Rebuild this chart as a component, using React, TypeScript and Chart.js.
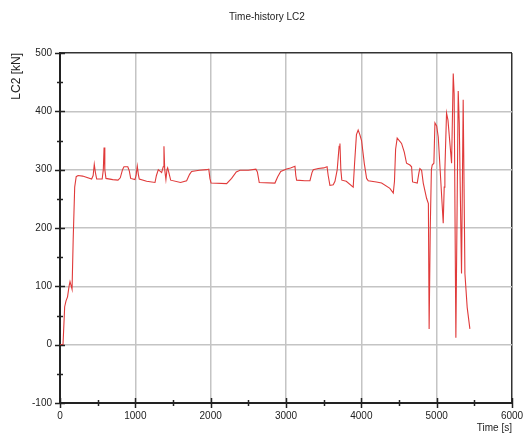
import React, { useEffect, useRef } from "react";
import { Chart, registerables } from "chart.js";

Chart.register(...registerables);

const chartTitle = "Time-history LC2";
const xTitle = "Time [s]";
const yTitle = "LC2 [kN]";

const times = [
  0, 40, 45, 62, 80, 100, 120, 133, 150, 160, 175, 195, 215, 240, 300, 420, 440, 455, 470, 487,
  560, 575, 585, 595, 610, 700, 770, 800, 830, 849, 900, 920, 938, 995, 1010, 1026, 1040, 1052,
  1150, 1261, 1280, 1305, 1349, 1370, 1380, 1390, 1406, 1420, 1429, 1445, 1469, 1600, 1681, 1720,
  1747, 1850, 1946, 1975, 1990, 2005, 2212, 2278, 2340, 2389, 2500, 2600, 2620, 2645, 2853, 2890,
  2930, 3008, 3060, 3119, 3130, 3141, 3250, 3318, 3345, 3362, 3428, 3500, 3545, 3560, 3583, 3627,
  3650, 3680, 3705, 3716, 3728, 3741, 3800, 3892, 3910, 3935, 3958, 3980, 4003, 4040, 4070, 4092,
  4200, 4269, 4379, 4424, 4440, 4455, 4476, 4534, 4570, 4600, 4645, 4667, 4680, 4742, 4765, 4777,
  4800, 4822, 4866, 4890, 4900, 4915, 4930, 4941, 4963, 4977, 5000, 5021, 5087, 5100, 5109, 5131,
  5150, 5198, 5220, 5232, 5255, 5286, 5300, 5330, 5352, 5375, 5405, 5441,
];

const loads = [
  0, 0, 0, 65, 75, 82, 100, 108, 100, 95, 180, 270, 288, 290, 289, 284, 290, 309, 295, 284,
  284, 300, 338, 300, 285, 283, 282, 286, 300, 305, 305, 298, 285, 283, 290, 306, 292, 284,
  280, 278, 290, 300, 295, 305, 340, 300, 283, 300, 303, 295, 282, 278, 281, 292,
  297, 299, 300, 301, 285, 277, 276, 285, 296, 299, 299, 301, 296, 278, 277, 288,
  297, 301, 303, 306, 290, 282, 281, 281, 295, 300, 302, 303, 305, 290, 273, 274,
  280, 300, 340, 345, 300, 282, 280, 270, 310, 360, 368, 360, 350, 310, 285, 281,
  279, 277, 268, 260, 280, 335, 354, 345, 330, 311, 308, 305, 279, 277, 295, 302,
  299, 277, 251, 242, 27, 200, 300, 308, 311, 380, 375, 356, 208, 270, 299, 397,
  385, 311, 465, 430, 12, 435, 380, 122, 420, 122, 64, 27,
];

const xMin = 0;
const xMax = 6000;
const xMajor = 1000;
const xMinor = 500;
const yMin = -100;
const yMax = 500;
const yMajor = 100;
const yMinor = 50;

const FONT = "Arial, 'Liberation Sans', sans-serif";

const crossTicks = {
  id: "crossTicks",
  afterDraw(chart: any) {
    const ctx = chart.ctx;
    const xs = chart.scales.x;
    const ys = chart.scales.y;
    ctx.save();
    ctx.strokeStyle = "#222";
    ctx.lineWidth = 1.5;
    for (const t of xs.ticks) {
      const p = Math.round(xs.getPixelForValue(t.value)) + 0.5;
      const major = t.value % xMajor === 0;
      const h = major ? 5 : 3;
      ctx.beginPath();
      ctx.moveTo(p, xs.top - h);
      ctx.lineTo(p, xs.top + h);
      ctx.stroke();
    }
    for (const t of ys.ticks) {
      const p = Math.round(ys.getPixelForValue(t.value)) + 0.5;
      const major = t.value % yMajor === 0;
      const h = major ? 5 : 3;
      ctx.beginPath();
      ctx.moveTo(ys.right - h, p);
      ctx.lineTo(ys.right + h, p);
      ctx.stroke();
    }
    ctx.restore();
  },
};

export default function App() {
  const ref = useRef<HTMLCanvasElement | null>(null);
  useEffect(() => {
    if (!ref.current) return;
    const points = times.map((t, i) => ({ x: t, y: loads[i] }));
    const chart = new Chart(ref.current, {
      type: "line",
      data: {
        datasets: [
          {
            data: points,
            borderColor: "#e03a3a",
            borderWidth: 1.1,
            pointRadius: 0,
            tension: 0,
            fill: false,
          },
        ],
      },
      options: {
        responsive: false,
        animation: false,
        events: [],
        layout: { padding: { left: 22, right: 14, top: 0, bottom: 0 } },
        plugins: {
          legend: { display: false },
          tooltip: { enabled: false },
          title: {
            display: true,
            text: chartTitle,
            color: "#222",
            font: { family: FONT, size: 10, weight: "normal" },
            padding: { top: 11, bottom: 30 },
          },
        },
        scales: {
          x: {
            type: "linear",
            min: xMin,
            max: xMax,
            afterFit: (s: any) => {
              s.height = 35;
              s.paddingLeft = 0;
              s.paddingRight = 0;
            },
            ticks: {
              stepSize: xMinor,
              autoSkip: false,
              maxRotation: 0,
              padding: 7,
              color: "#222",
              font: { family: FONT, size: 10 },
              callback: (v: any) => (Number(v) % xMajor === 0 ? String(v) : ""),
            },
            grid: {
              drawTicks: false,
              lineWidth: 1.5,
              color: (c: any) => {
                const v = c.tick ? c.tick.value : 0;
                if (v === xMax) return "#333";
                if (v % xMajor !== 0) return "rgba(0,0,0,0)";
                return "#c4c4c4";
              },
            },
            border: { color: "#222", width: 2 },
            title: {
              display: true,
              text: xTitle,
              align: "end",
              color: "#222",
              font: { family: FONT, size: 10 },
              padding: { top: 0, bottom: 4 },
            },
          },
          y: {
            type: "linear",
            min: yMin,
            max: yMax,
            afterFit: (s: any) => {
              s.width = 38;
              s.paddingTop = 0;
              s.paddingBottom = 0;
            },
            ticks: {
              stepSize: yMinor,
              autoSkip: false,
              padding: 8,
              color: "#222",
              font: { family: FONT, size: 10 },
              callback: (v: any) => (Number(v) % yMajor === 0 ? String(v) : ""),
            },
            grid: {
              drawTicks: false,
              lineWidth: 1.5,
              color: (c: any) => {
                const v = c.tick ? c.tick.value : 0;
                if (v === yMax) return "#333";
                if (v % yMajor !== 0) return "rgba(0,0,0,0)";
                return "#c4c4c4";
              },
            },
            border: { color: "#222", width: 2 },
            title: {
              display: true,
              text: yTitle,
              align: "end",
              color: "#222",
              font: { family: FONT, size: 12 },
              padding: { top: -12.7, bottom: 0 },
            },
          },
        },
      },
      plugins: [crossTicks],
    });
    return () => chart.destroy();
  }, []);
  return (
    <canvas
      ref={ref}
      width={526}
      height={438}
      style={{ position: "absolute", left: 0, top: 0, display: "block" }}
    />
  );
}
